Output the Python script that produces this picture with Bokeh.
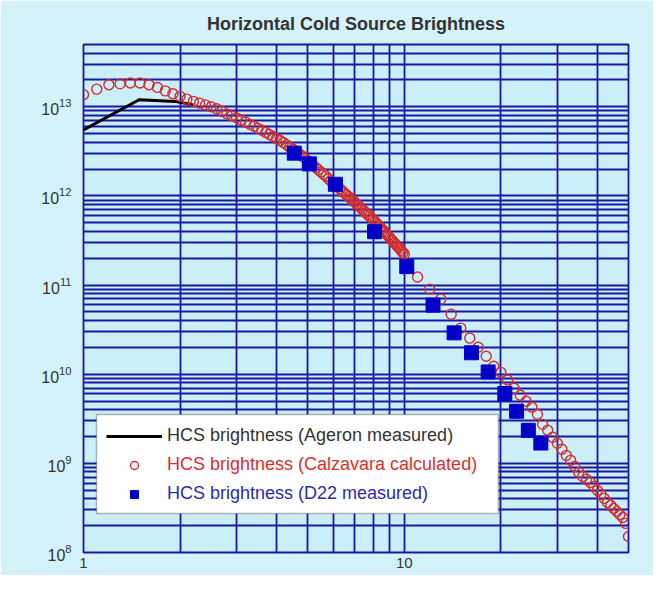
from bokeh.plotting import figure
from bokeh.models import (Range1d, FixedTicker, PrintfTickFormatter, Legend, LegendItem,
                          BoxAnnotation)
from bokeh.embed import file_html
from bokeh.resources import INLINE

# ---------------- data ----------------
title_text = "Horizontal Cold Source Brightness"

ageron_x = [1.0, 1.49, 1.93, 2.2]
ageron_y = [5.5e12, 1.2e13, 1.15e13, 1.05e13]

calz_x = [1.0, 1.1, 1.2, 1.3, 1.4, 1.5, 1.6, 1.7, 1.8, 1.9,
          2.0, 2.1, 2.2, 2.3, 2.4, 2.5, 2.6, 2.7, 2.8, 2.9,
          3.0, 3.1, 3.2, 3.3, 3.4, 3.5, 3.6, 3.7, 3.8, 3.9,
          4.0, 4.1, 4.2, 4.3, 4.4, 4.5, 4.6, 4.7, 4.8, 4.9,
          5.0, 5.1, 5.2, 5.3, 5.4, 5.5, 5.6, 5.7, 5.8, 5.9,
          6.0, 6.1, 6.2, 6.3, 6.4, 6.5, 6.6, 6.7, 6.8, 6.9,
          7.0, 7.1, 7.2, 7.3, 7.4, 7.5, 7.6, 7.7, 7.8, 7.9,
          8.0, 8.1, 8.2, 8.3, 8.4, 8.5, 8.6, 8.7, 8.8, 8.9,
          9.0, 9.1, 9.2, 9.3, 9.4, 9.5, 9.6, 9.7, 9.8, 9.9,
          10.0,
          11, 12, 13, 14, 15, 16, 17, 18, 19, 20,
          21, 22, 23, 24, 25, 26, 27, 28, 29, 30,
          31, 32, 33, 34, 35, 36, 37, 38, 39, 40,
          41, 42, 43, 44, 45, 46, 47, 48, 49, 50]
calz_y = [1.37e13, 1.58e13, 1.77e13, 1.81e13, 1.85e13, 1.85e13, 1.77e13, 1.65e13, 1.51e13, 1.40e13,
          1.31e13, 1.22e13, 1.15e13, 1.10e13, 1.05e13, 1.00e13, 9.50e12, 8.90e12, 8.34e12, 7.92e12,
          7.52e12, 7.14e12, 6.73e12, 6.36e12, 6.04e12, 5.73e12, 5.45e12, 5.16e12, 4.90e12, 4.65e12,
          4.41e12, 4.19e12, 3.97e12, 3.74e12, 3.53e12, 3.34e12, 3.14e12, 2.98e12, 2.81e12, 2.65e12,
          2.49e12, 2.34e12, 2.21e12, 2.08e12, 1.97e12, 1.86e12, 1.75e12, 1.66e12, 1.56e12, 1.47e12,
          1.40e12, 1.33e12, 1.26e12, 1.20e12, 1.14e12, 1.08e12, 1.03e12, 9.82e11, 9.37e11, 8.95e11,
          8.54e11, 8.15e11, 7.78e11, 7.41e11, 7.07e11, 6.75e11, 6.46e11, 6.16e11, 5.90e11, 5.66e11,
          5.42e11, 5.16e11, 4.92e11, 4.70e11, 4.48e11, 4.28e11, 4.09e11, 3.91e11, 3.74e11, 3.57e11,
          3.42e11, 3.27e11, 3.13e11, 2.99e11, 2.87e11, 2.75e11, 2.64e11, 2.53e11, 2.42e11, 2.32e11,
          2.23e11,
          1.23e11, 9.0e10, 6.96e10, 4.72e10, 3.29e10, 2.54e10, 2.01e10, 1.59e10, 1.23e10, 1.05e10,
          8.6e9, 6.97e9, 5.81e9, 4.98e9, 4.26e9, 3.56e9, 2.74e9, 2.35e9, 1.96e9, 1.68e9,
          1.44e9, 1.23e9, 1.08e9, 9.25e8, 7.92e8, 7.14e8, 6.61e8, 6.12e8, 5.52e8, 4.98e8,
          4.49e8, 4.05e8, 3.65e8, 3.38e8, 3.12e8, 2.89e8, 2.67e8, 2.47e8, 2.12e8, 1.51e8]

d22_x = [4.54, 5.06, 6.10, 8.08, 10.18, 12.29, 14.30, 16.20, 18.26, 20.58, 22.39, 24.36, 26.65]
d22_y = [3.02e12, 2.29e12, 1.35e12, 3.97e11, 1.61e11, 5.96e10, 2.91e10, 1.74e10, 1.06e10,
         6.07e9, 3.84e9, 2.35e9, 1.69e9]

legend_labels = ["HCS brightness (Ageron measured)",
                 "HCS brightness (Calzavara calculated)",
                 "HCS brightness (D22 measured)"]

x_label_ticks = [1, 10]
y_label_ticks = [1e8, 1e9, 1e10, 1e11, 1e12, 1e13]
x_decades = [1, 10]
y_decades = [1e8, 1e9, 1e10, 1e11, 1e12, 1e13]
mantissas = [1, 2, 3, 4, 5, 6, 7, 8, 9]
x_min, x_max = 1, 50
y_min, y_max = 1e8, 5e13

# ---------------- styling ----------------
GRID = "#1818A4"
FONT = "Liberation Sans"

p = figure(width=653, height=575, x_axis_type="log", y_axis_type="log",
           x_range=Range1d(x_min, x_max), y_range=Range1d(y_min, y_max),
           output_backend="svg", toolbar_location=None,
           min_border_left=83, min_border_right=25, min_border_top=44, min_border_bottom=23)

p.background_fill_color = "#CBEFF8"
p.border_fill_color = "#D4F2F9"
p.outline_line_color = GRID
p.outline_line_width = 1.8

# title (placed as high as the canvas allows)
p.title.text = title_text
p.title.align = "center"
p.title.text_font = FONT
p.title.text_font_size = "18px"
p.title.text_font_style = "bold"
p.title.text_color = "#333333"
p.title.standoff = 22

x_grid = [d * m for d in x_decades for m in mantissas if d * m <= x_max]
y_grid = [d * m for d in y_decades for m in mantissas if d * m <= y_max]
p.xgrid.ticker = FixedTicker(ticks=x_grid)
p.ygrid.ticker = FixedTicker(ticks=y_grid)
for g in (p.xgrid, p.ygrid):
    g.grid_line_color = GRID
    g.grid_line_width = 1.8
    g.grid_line_alpha = 1.0

p.xaxis.ticker = FixedTicker(ticks=x_label_ticks)
p.xaxis.formatter = PrintfTickFormatter(format="%d")
p.yaxis.ticker = FixedTicker(ticks=y_label_ticks)
for ax in (p.xaxis, p.yaxis):
    ax.axis_line_color = None
    ax.major_tick_line_color = None
    ax.minor_tick_line_color = None
    ax.major_tick_out = 0
    ax.major_tick_in = 0
    ax.major_label_text_font = FONT
    ax.major_label_text_color = "#333333"
p.xaxis.major_label_text_font_size = "15px"
p.yaxis.major_label_text_font_size = "16px"
p.xaxis.major_label_standoff = 5
p.yaxis.major_label_standoff = 12

r_ag = p.line(ageron_x, ageron_y, line_color="black", line_width=3)
r_cz = p.scatter(calz_x, calz_y, marker="circle", size=10, fill_color=None,
                 line_color="#D42C2C", line_width=1.4)
r_d22 = p.scatter(d22_x, d22_y, marker="square", size=14, fill_color="#0000C8",
                  line_color="#0000C8")

# legend box
p.add_layout(BoxAnnotation(left=96, right=498, top=414, bottom=513,
                           left_units="canvas", right_units="canvas",
                           top_units="canvas", bottom_units="canvas",
                           fill_color="white", fill_alpha=1.0,
                           line_color="#111111", line_width=1.5))

legend_colors = ["#333333", "#D83030", "#2B2BB0"]
legend_locs = [(23, 106), (23, 77), (23, 48)]
for lab, ren, col, loc in zip(legend_labels, [r_ag, r_cz, r_d22], legend_colors, legend_locs):
    lg = Legend(items=[LegendItem(label=lab, renderers=[ren])], location=loc,
                glyph_width=56, glyph_height=20, label_height=20, label_standoff=5,
                padding=0, margin=0, spacing=0,
                background_fill_alpha=0, border_line_color=None,
                label_text_font=FONT, label_text_font_size="18px",
                label_text_color=col)
    p.add_layout(lg)

open("out.html", "w").write(file_html(p, INLINE))
